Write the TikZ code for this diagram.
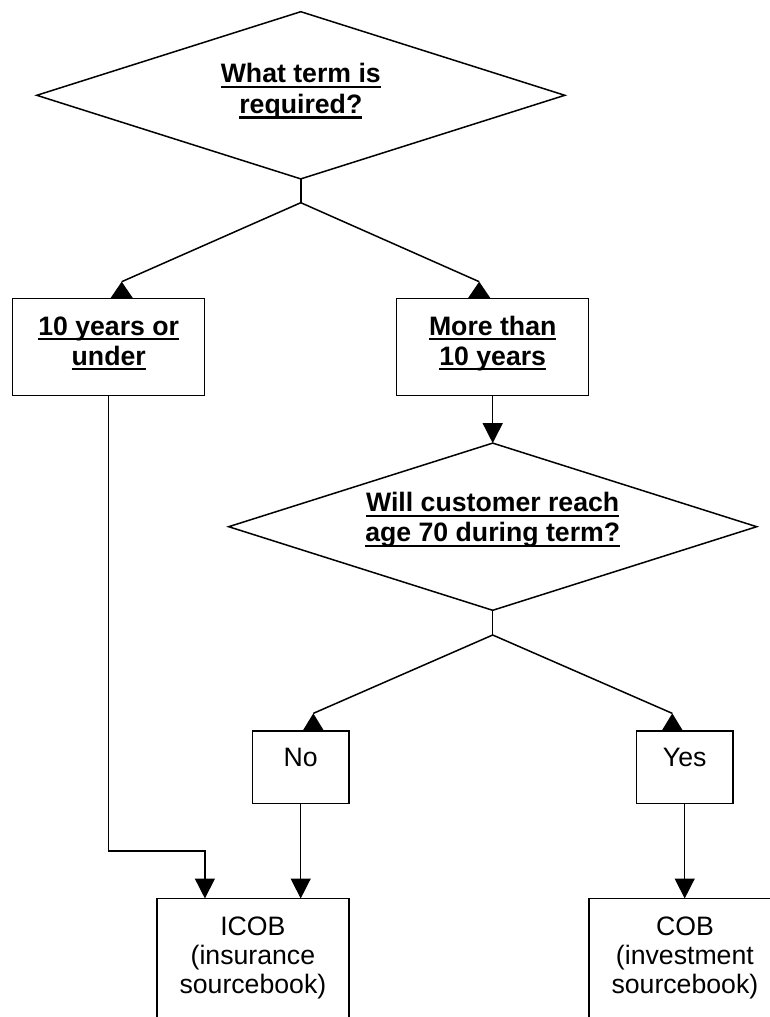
\documentclass[tikz,border=0pt]{standalone}
\usepackage{fontspec}
\setmainfont{Liberation Sans}
\usetikzlibrary{shapes.geometric,arrows.meta,calc}
\newsavebox\ulboxx
\newcommand{\ulbf}[1]{\sbox\ulboxx{\bfseries #1}\rlap{\rule[-4pt]{\wd\ulboxx}{1.9pt}}\usebox\ulboxx}
\tikzset{
  box/.style={draw, rectangle, inner sep=0pt, outer sep=0pt},
  dia/.style={draw, diamond, inner sep=0pt, outer sep=0pt, minimum width=396pt, minimum height=125.4pt},
  txt/.style={inner sep=0pt, anchor=base, font=\fontsize{20}{24}\selectfont},
  arr/.style={-{Triangle[width=15pt,length=15pt]}},
  tri/.style={fill=black, draw=none}
}
\begin{document}
\begin{tikzpicture}[x=0.75pt, y=-0.75pt, line width=1.125pt]
\useasboundingbox (0,0) rectangle (770,1017);
\fill[white] (0,0) rectangle (770,1017);
\clip (0,0) rectangle (770,1017);

% shapes
\node[dia] (d1) at (300.8,95.3) {};
\coordinate (s1) at (300.8,202.7);
\node[box, minimum width=144pt, minimum height=72.9pt] (b1) at (108.7,346.9) {};
\node[box, minimum width=144pt, minimum height=72.9pt] (b2) at (492.7,346.9) {};
\node[dia] (d2) at (492.7,526.7) {};
\coordinate (s2) at (492.7,635);
\node[box, minimum width=72.5pt, minimum height=54.2pt] (no) at (300.7,767.2) {};
\node[box, minimum width=72.5pt, minimum height=54.2pt] (yes) at (684.7,767.2) {};
\node[box, minimum width=144.2pt, minimum height=120pt] (icob) at (252.9,978.5) {};
\node[box, minimum width=144.2pt, minimum height=120pt] (cob) at (684.9,978.5) {};

% texts
\node[txt] (t1a) at (300.8,82.7) {\ulbf{What term is}};
\node[txt] (t1b) at (300.8,113.3) {\ulbf{required?}};
\node[txt] (t2a) at (108.7,335) {\ulbf{10 years or}};
\node[txt] (t2b) at (108.7,365) {\ulbf{under}};
\node[txt] (t3a) at (492.7,335) {\ulbf{More than}};
\node[txt] (t3b) at (492.7,365) {\ulbf{10 years}};
\node[txt] (t4a) at (492.7,511.7) {\ulbf{Will customer reach}};
\node[txt] (t4b) at (492.7,541.7) {\ulbf{age 70 during term?}};
\node[txt] (t5) at (300.7,766.7) {No};
\node[txt] (t6) at (684.7,766.7) {Yes};
\node[txt] (t7a) at (252.9,935) {ICOB};
\node[txt] (t7b) at (252.9,964) {(insurance};
\node[txt] (t7c) at (252.9,993) {sourcebook)};
\node[txt] (t8a) at (684.9,935) {COB};
\node[txt] (t8b) at (684.9,964) {(investment};
\node[txt] (t8c) at (684.9,993) {sourcebook)};

% connectors from first decision
\draw (d1.south) -- (s1);
\draw (s1) -- ($(b1.north)+(13,-16.6)$);
\fill[tri] ($(b1.north)+(13,-16.6)$) -- ($(b1.north)+(24.3,0)$) -- ($(b1.north)+(1.7,0)$) -- cycle;
\draw (s1) -- ($(b2.north)+(-13.5,-16.6)$);
\fill[tri] ($(b2.north)+(-13.5,-16.6)$) -- ($(b2.north)+(-2.2,0)$) -- ($(b2.north)+(-24.8,0)$) -- cycle;

% to second decision
\draw[arr] (b2.south) -- (d2.north);
\draw (d2.south) -- (s2);
\draw (s2) -- ($(no.north)+(12.6,-17.7)$);
\fill[tri] ($(no.north)+(12.6,-17.7)$) -- ($(no.north)+(23.4,0)$) -- ($(no.north)+(1.8,0)$) -- cycle;
\draw (s2) -- ($(yes.north)+(-12.4,-17.7)$);
\fill[tri] ($(yes.north)+(-12.4,-17.7)$) -- ($(yes.north)+(-1.6,0)$) -- ($(yes.north)+(-23.2,0)$) -- cycle;

% to outcomes
\coordinate (e1) at ($(icob.north)+(-48,0)$);
\coordinate (k1) at ($(e1)+(0,-47.5)$);
\draw[arr] (b1.south) |- (k1) -- (e1);
\draw[arr] (no.south) -- (no.south |- icob.north);
\draw[arr] (yes.south) -- (yes.south |- cob.north);
\end{tikzpicture}
\end{document}
